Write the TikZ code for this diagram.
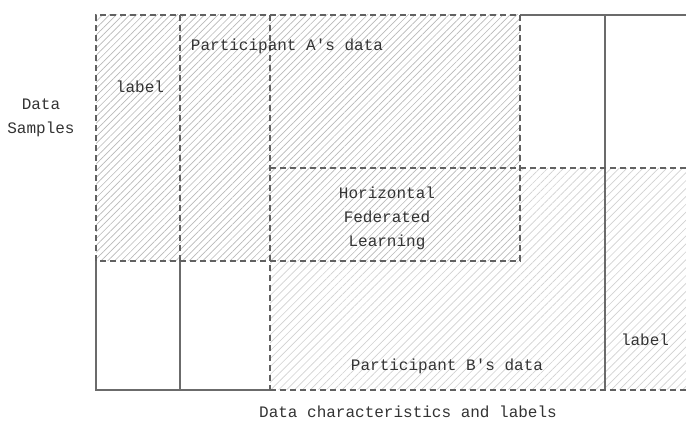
\documentclass[tikz,border=0pt]{standalone}
\usepackage{fontspec}
\setmonofont{Liberation Mono}
\usetikzlibrary{patterns.meta}
\begin{document}
\begin{tikzpicture}[x=0.75pt,y=-0.75pt,
  dline/.style={draw=black!62, line width=0.85pt, dash pattern=on 4.5pt off 3pt},
  sline/.style={draw=black!58, line width=0.85pt},
  txt/.style={font=\ttfamily\fontsize{12}{18}\selectfont, text=black!80, align=center, inner sep=0pt}]
\useasboundingbox (0,0) rectangle (686,423);
% hatching
\fill[pattern={Lines[angle=45,distance=4.2pt,line width=0.5pt]}, pattern color=black!18] (270,261) -- (520,261) -- (520,168) -- (686,168) -- (686,390) -- (270,390) -- cycle;
\fill[pattern={Lines[angle=45,distance=3.6pt,line width=0.5pt]}, pattern color=black!28] (96,15) rectangle (520,261);
% solid lines
\draw[sline] (520,15) -- (686,15);
\draw[sline] (96,261) -- (96,390) -- (270,390);
\draw[sline] (180,261) -- (180,390);
\draw[sline] (605,15) -- (605,390);
% dashed lines
\draw[dline] (96,261) -- (96,15) -- (520,15) -- (520,261) -- cycle;
\draw[dline] (180,15) -- (180,261);
\draw[dline] (270,15) -- (270,390);
\draw[dline] (270,168) -- (686,168);
\draw[dline] (270,390) -- (686,390);
% texts
\node[txt] (lblA) at (140,87) {label};
\node[txt] (pA) at (287,46) {Participant A's data};
\node[txt] (hfl) at (387,218) {Horizontal\\Federated\\Learning};
\node[txt] (pB) at (447,366) {Participant B's data};
\node[txt] (lblB) at (645,340) {label};
\node[txt] (ds) at (41,118) {Data\\Samples};
\node[txt] (dc) at (408,412) {Data characteristics and labels};
\end{tikzpicture}
\end{document}
